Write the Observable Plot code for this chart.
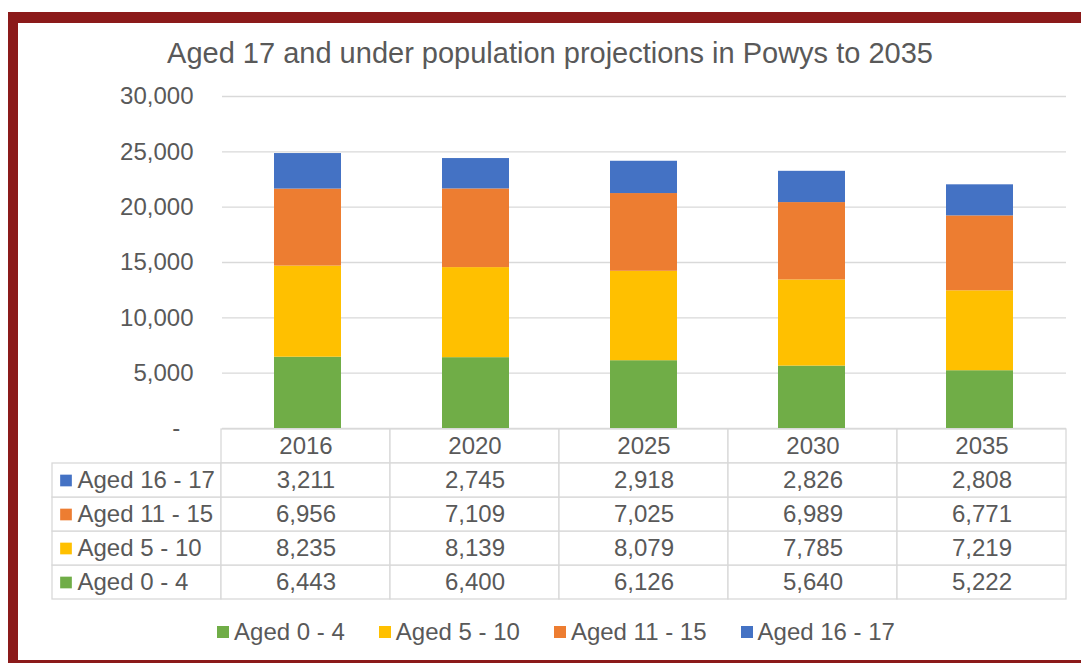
<!DOCTYPE html>
<html><head><meta charset="utf-8">
<script src="https://cdn.jsdelivr.net/npm/d3@7"></script>
<script src="https://cdn.jsdelivr.net/npm/@observablehq/plot@0.6"></script>
<style>
html,body{margin:0;padding:0;background:#fff;overflow:hidden;width:1081px;height:663px;font-family:"Liberation Sans",Arial,sans-serif;color:#595959;}
#frame{position:absolute;left:8px;top:12px;width:1200px;height:637px;border-left:10px solid #8B1A1A;border-top:11px solid #8B1A1A;border-bottom:10px solid #8B1A1A;box-sizing:content-box;}
#title{position:absolute;left:0;top:36px;width:1100px;text-align:center;font-size:29px;line-height:34px;color:#595959;}
#chart{position:absolute;left:0;top:80px;}
#table{position:absolute;left:0;top:428px;}
#legend{position:absolute;left:0;top:618px;width:1112px;display:flex;justify-content:center;font-size:24px;line-height:28px;color:#595959;}
.item{display:flex;align-items:center;margin:0 17px;}
.sw{width:12px;height:12px;margin-right:5px;}
</style>
</head><body>
<div id="frame"></div>
<div id="title"></div>
<div id="chart"></div>
<div id="table"></div>
<div id="legend"></div>
<script>
const titleText = "Aged 17 and under population projections in Powys to 2035";
const years = ["2016", "2020", "2025", "2030", "2035"];
const groups = ["Aged 0 - 4", "Aged 5 - 10", "Aged 11 - 15", "Aged 16 - 17"];
const colors = ["#70AD47", "#FFC000", "#ED7D31", "#4472C4"];
const aged0to4 = [6443, 6400, 6126, 5640, 5222];
const aged5to10 = [8235, 8139, 8079, 7785, 7219];
const aged11to15 = [6956, 7109, 7025, 6989, 6771];
const aged16to17 = [3211, 2745, 2918, 2826, 2808];
const yTicks = [0, 5000, 10000, 15000, 20000, 25000, 30000];

const series = [aged0to4, aged5to10, aged11to15, aged16to17];
const rows = [];
years.forEach((yr, i) => groups.forEach((g, j) => rows.push({year: yr, group: g, value: series[j][i]})));

const fmt = d3.format(",");
const font = '"Liberation Sans", Arial, sans-serif';
document.getElementById("title").textContent = titleText;

const chart = Plot.plot({
  width: 1081, height: 348,
  marginTop: 16, marginBottom: 0, marginLeft: 222, marginRight: 15,
  style: {fontFamily: font, fontSize: "24px", color: "#595959", background: "transparent", overflow: "visible"},
  x: {domain: years, paddingInner: 0.6, paddingOuter: 0.3, axis: null},
  y: {domain: [0, 30000]},
  color: {domain: groups, range: colors},
  marks: [
    Plot.gridY(yTicks, {stroke: "#D9D9D9", strokeOpacity: 1, strokeWidth: 1.3}),
    Plot.axisY({ticks: yTicks, tickSize: 0, tickPadding: 29, label: null, fontSize: 24,
      tickFormat: d => d === 0 ? "-\u00a0\u00a0" : fmt(d)}),
    Plot.barY(rows, {x: "year", y: "value", fill: "group"})
  ]
});
document.getElementById("chart").append(chart);

const cols = ["_label", ...years];
const rowKeys = ["_header", ...groups.slice().reverse()];
const cells = [];
years.forEach(yr => cells.push({col: yr, row: "_header", text: yr}));
groups.forEach((g, j) => {
  cells.push({col: "_label", row: g, text: ""});
  years.forEach((yr, i) => cells.push({col: yr, row: g, text: fmt(series[j][i])}));
});

const table = Plot.plot({
  width: 1081, height: 172,
  marginTop: 0, marginBottom: 0, marginLeft: 52, marginRight: 15,
  style: {fontFamily: font, fontSize: "24px", color: "#595959", background: "transparent", overflow: "visible"},
  x: {domain: cols, padding: 0, axis: null},
  y: {domain: rowKeys, padding: 0, axis: null},
  color: {domain: groups, range: colors},
  marks: [
    Plot.cell(cells, {x: "col", y: "row", fill: "white", stroke: "#D9D9D9", strokeWidth: 1.3}),
    Plot.text(cells, {x: "col", y: "row", text: "text", fill: "#595959", fontSize: 24}),
    Plot.dot(groups, {x: () => "_label", y: d => d, symbol: "square", r: 6.6, fill: d => d, dx: -71}),
    Plot.text(groups, {x: () => "_label", y: d => d, text: d => d, textAnchor: "start", dx: -59.5, fill: "#595959", fontSize: 24})
  ]
});
document.getElementById("table").append(table);

const legend = document.getElementById("legend");
groups.forEach((g, j) => {
  const item = document.createElement("div");
  item.className = "item";
  const sw = document.createElement("div");
  sw.className = "sw";
  sw.style.background = colors[j];
  const t = document.createElement("span");
  t.textContent = g;
  item.append(sw, t);
  legend.append(item);
});
</script>
</body></html>
